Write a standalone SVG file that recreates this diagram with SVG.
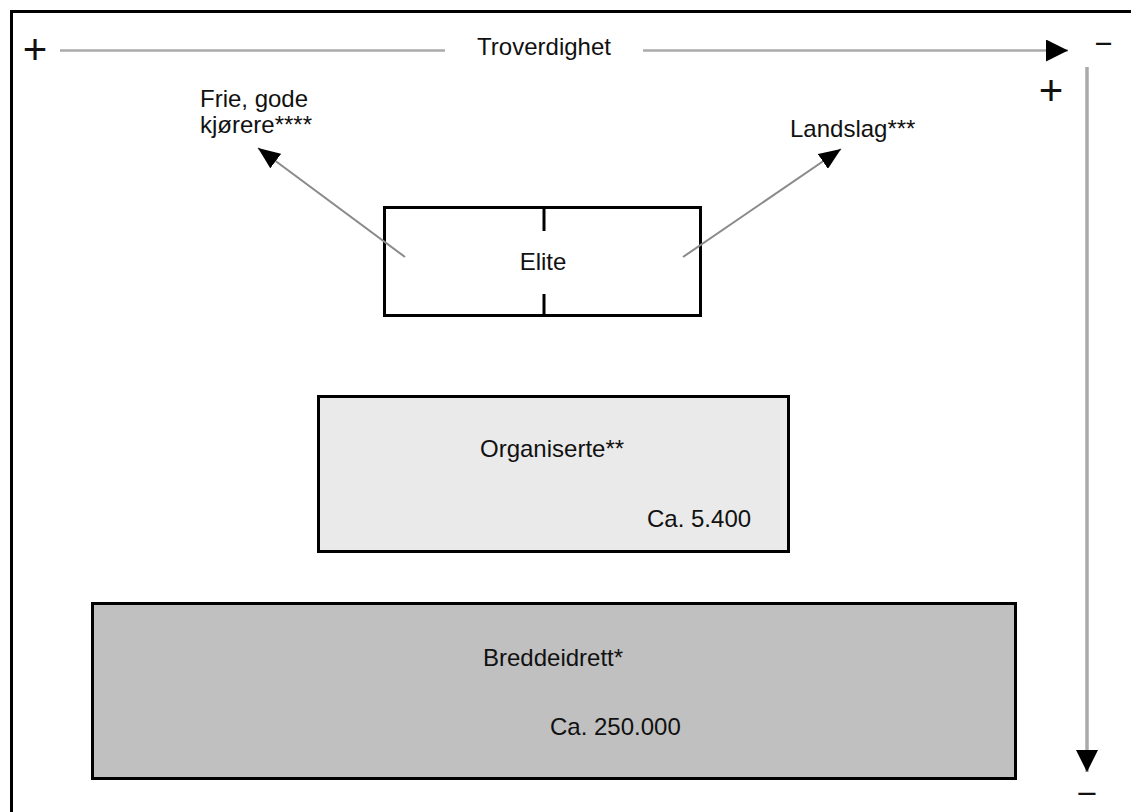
<svg xmlns="http://www.w3.org/2000/svg" width="1131" height="812" viewBox="0 0 1131 812">
<style>
text{font-family:"Liberation Sans",Arial,sans-serif;font-size:24px;fill:#111}
.sign{font-size:42px}
.minus{font-size:28px}
.box{stroke:#000;stroke-width:3}
.axis{stroke:#aaa;fill:none}
.diag{stroke:#8a8a8a;stroke-width:2;fill:none}
</style>
<defs>
<marker id="ah" markerUnits="userSpaceOnUse" markerWidth="22" markerHeight="22" refX="22" refY="11" orient="auto">
<path d="M0,0 L22,11 L0,22 z" fill="#000"/>
</marker>
<marker id="ahs" markerUnits="userSpaceOnUse" markerWidth="22" markerHeight="18" refX="22" refY="9" orient="auto">
<path d="M0,0 L22,9 L0,18 z" fill="#000"/>
</marker>
</defs>
<rect width="1131" height="812" fill="#fff"/>
<path d="M11.5,812 V11.5 H1131" fill="none" stroke="#000" stroke-width="3"/>

<g id="axis-labels">
<text class="sign" x="35" y="64" text-anchor="middle">+</text>
<text class="sign" x="1051" y="105" text-anchor="middle">+</text>
<text class="minus" x="1103.5" y="51.5" text-anchor="middle" transform="translate(1103.5,0) scale(2.2,1) translate(-1103.5,0)">-</text>
<text class="minus" x="1087" y="801.5" text-anchor="middle" transform="translate(1087,0) scale(2.5,1) translate(-1087,0)">-</text>
<text id="troverdighet" x="544" y="55" text-anchor="middle">Troverdighet</text>
</g>

<g id="frie">
<text x="200" y="107">Frie, gode</text>
<text x="200" y="133">kjørere****</text>
</g>

<g id="landslag">
<text x="790" y="137">Landslag***</text>
</g>

<g id="elite">
<rect class="box" x="384.5" y="207.5" width="316" height="108" fill="#fff"/>
<line x1="544" y1="207" x2="544" y2="231" stroke="#000" stroke-width="3"/>
<line x1="544" y1="294" x2="544" y2="316" stroke="#000" stroke-width="3"/>
<text x="543" y="270" text-anchor="middle">Elite</text>
</g>

<g id="organiserte">
<rect class="box" x="318.5" y="396.5" width="470" height="155" fill="#eaeaea"/>
<text x="480" y="457">Organiserte**</text>
<text x="647" y="527">Ca. 5.400</text>
</g>

<g id="breddeidrett">
<rect class="box" x="92.5" y="603.5" width="923" height="175" fill="#c0c0c0"/>
<text x="483" y="666">Breddeidrett*</text>
<text x="550" y="735">Ca. 250.000</text>
</g>

<g id="connectors">
<line class="axis" x1="60" y1="50.5" x2="445" y2="50.5" stroke-width="2.5"/>
<line class="axis" x1="643" y1="50.5" x2="1068" y2="50.5" stroke-width="2.5" marker-end="url(#ah)"/>
<line class="axis" x1="1087" y1="67" x2="1087" y2="772" stroke-width="3.5" marker-end="url(#ah)"/>
<line class="diag" x1="405" y1="257" x2="258" y2="148" marker-end="url(#ahs)"/>
<line class="diag" x1="683" y1="257" x2="841" y2="149" marker-end="url(#ahs)"/>
</g>
</svg>
